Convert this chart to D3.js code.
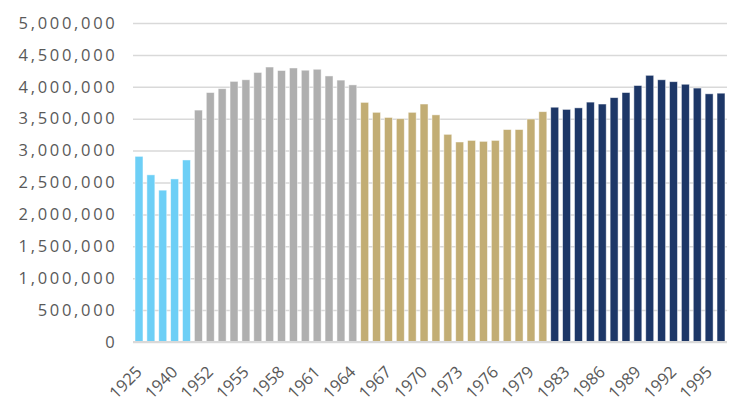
<!DOCTYPE html>
<html>
<head>
<meta charset="utf-8">
<script src="https://cdn.jsdelivr.net/npm/d3@7"></script>
<style>
  body { margin: 0; background: #fff; }
  text { font-family: "Open Sans", sans-serif; fill: #595959; }
</style>
</head>
<body>
<div class="canvas"></div>
<script>
const dims = { width: 734, height: 405 };
const margin = { top: 23, right: 7, bottom: 63, left: 133 };

// births per year, split by generation
const earlyYears = ['1925', '1930', '1935', '1940', '1945'];
const earlyBirths = [2910000, 2620000, 2380000, 2556000, 2853000];

const boomYears = ['1950', '1952', '1953', '1954', '1955', '1956', '1957',
  '1958', '1959', '1960', '1961', '1962', '1963', '1964'];
const boomBirths = [3635000, 3910000, 3970000, 4085000, 4110000, 4225000, 4310000,
  4255000, 4295000, 4260000, 4275000, 4170000, 4105000, 4030000];

const genxYears = ['1965', '1966', '1967', '1968', '1969', '1970', '1971', '1972',
  '1973', '1974', '1975', '1976', '1977', '1978', '1979', '1980'];
const genxBirths = [3756000, 3600000, 3520000, 3500000, 3600000, 3730000, 3560000, 3255000,
  3135000, 3160000, 3145000, 3160000, 3330000, 3330000, 3495000, 3610000];

const millYears = ['1982', '1983', '1984', '1985', '1986', '1987', '1988', '1989',
  '1990', '1991', '1992', '1993', '1994', '1995', '1996'];
const millBirths = [3680000, 3646000, 3670000, 3760000, 3730000, 3830000, 3910000, 4020000,
  4180000, 4110000, 4080000, 4040000, 3980000, 3890000, 3900000];

const yTicks = [0, 500000, 1000000, 1500000, 2000000, 2500000, 3000000,
  3500000, 4000000, 4500000, 5000000];

const groups = [
  { years: earlyYears, births: earlyBirths, color: '#6dcff6' },
  { years: boomYears, births: boomBirths, color: '#afafaf' },
  { years: genxYears, births: genxBirths, color: '#c2ad74' },
  { years: millYears, births: millBirths, color: '#1d3767' }
];

const data = groups.flatMap(g =>
  g.years.map((y, i) => ({ year: y, births: g.births[i], color: g.color })));

const innerW = dims.width - margin.left - margin.right;
const innerH = dims.height - margin.top - margin.bottom;

const svg = d3.select('.canvas')
  .append('svg')
    .attr('width', dims.width)
    .attr('height', dims.height);

const graph = svg.append('g')
  .attr('transform', `translate(${margin.left}, ${margin.top})`);

// scales
const x = d3.scaleBand()
  .domain(data.map(d => d.year))
  .range([0, innerW])
  .paddingInner(0.33)
  .paddingOuter(0.17);

const y = d3.scaleLinear()
  .domain([0, 5000000])
  .range([innerH, 0]);

// gridlines + y labels
const yAxis = d3.axisLeft(y)
  .tickValues(yTicks)
  .tickSize(-innerW)
  .tickPadding(18)
  .tickFormat(d3.format(','));

graph.append('g')
  .call(yAxis)
  .call(g => g.select('.domain').remove())
  .call(g => g.selectAll('.tick line')
    .attr('stroke', '#d9d9d9')
    .attr('stroke-width', 1.5))
  .call(g => g.selectAll('.tick text')
    .attr('font-family', '"Open Sans", sans-serif')
    .attr('font-size', 16.5)
    .attr('letter-spacing', 2.7)
    .attr('dx', 2.5)
    .attr('fill', '#595959'));

// bars
graph.append('g')
  .selectAll('rect')
  .data(data)
  .enter()
  .append('rect')
    .attr('x', d => x(d.year))
    .attr('y', d => y(d.births))
    .attr('width', x.bandwidth())
    .attr('height', d => innerH - y(d.births))
    .attr('fill', d => d.color)
    .attr('stroke', '#fff')
    .attr('stroke-opacity', 0.6)
    .attr('stroke-width', 0.8);

// baseline
graph.append('line')
  .attr('x1', 0)
  .attr('x2', innerW)
  .attr('y1', innerH)
  .attr('y2', innerH)
  .attr('stroke', '#d9d9d9')
  .attr('stroke-width', 2);

// x labels, every third bar, rotated -45
const labelYears = x.domain().filter((d, i) => i % 3 === 0);

graph.append('g')
  .selectAll('text')
  .data(labelYears)
  .enter()
  .append('text')
    .attr('transform', d =>
      `translate(${x(d) + x.bandwidth() / 2 + 4}, ${innerH + 31}) rotate(-45)`)
    .attr('text-anchor', 'end')
    .attr('font-size', 16.5)
    .attr('fill', '#595959')
    .text(d => d);
</script>
</body>
</html>
